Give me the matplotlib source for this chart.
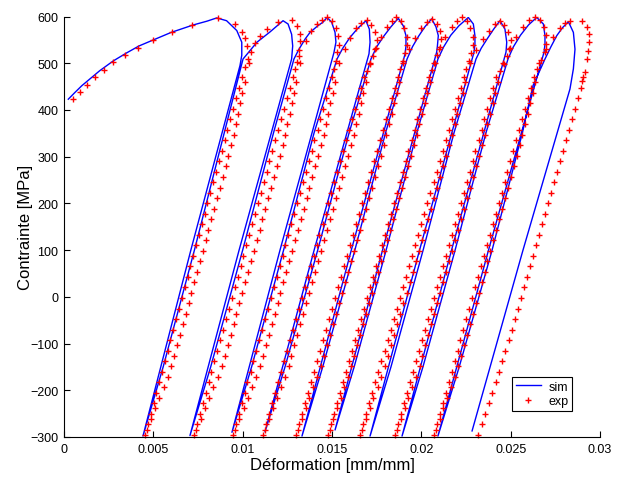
import numpy as np
import matplotlib
matplotlib.use('Agg')
import matplotlib.pyplot as plt

plt.rcParams['font.family'] = ['Liberation Sans', 'DejaVu Sans']

# all strains below are in 1e-3 mm/mm, stresses in MPa

# --- simulation (blue line) ---
sim_mono_x = [0.24, 0.6, 1.0, 1.5, 2.0, 2.76, 3.5, 4.2, 5.0, 6.0, 7.24, 8.0, 8.55]
sim_mono_y = [423, 437, 452, 468, 484, 505, 522, 537, 550, 566, 582, 590, 597]

sim_cycles_x = [
    [9.10, 9.67, 9.95, 9.95, 9.85, 7.10, 4.42, 5.55, 7.30, 8.96, 10.02, 10.80, 11.53, 12.26],
    [12.54, 12.74, 12.80, 12.74, 9.80, 7.05, 8.21, 10.00, 11.72, 12.87, 13.15, 13.50, 13.77, 14.20, 14.50, 14.72],
    [14.98, 15.17, 15.22, 15.11, 12.09, 9.40, 10.50, 12.29, 13.99, 15.28, 15.60, 16.00, 16.45, 16.90],
    [17.09, 17.13, 17.07, 14.00, 11.25, 12.37, 14.20, 15.95, 17.18, 17.50, 17.90, 18.30, 18.71],
    [18.99, 19.14, 19.14, 19.09, 16.08, 13.32, 14.48, 16.28, 17.99, 19.20, 19.50, 19.85, 20.20, 20.58],
    [20.82, 20.95, 20.90, 20.86, 17.83, 15.17, 16.24, 18.03, 19.74, 20.93, 21.25, 21.65, 22.10, 22.63],
    [22.91, 23.00, 23.00, 22.95, 19.90, 17.13, 18.30, 20.10, 21.82, 23.06, 23.35, 23.70, 24.05, 24.40],
    [24.68, 24.78, 24.74, 21.69, 18.92, 20.09, 21.89, 23.61, 24.85, 25.15, 25.55, 26.00, 26.46],
    [26.83, 26.92, 26.92, 26.87, 23.76, 20.93, 22.12, 23.96, 25.65, 26.25, 26.92, 27.25, 27.58, 27.90, 28.23],
    [28.51, 28.60, 28.51, 28.32, 25.69, 22.84],
]
sim_cycles_y = [
    [591, 570, 545, 517, 495, 100, -298, -150, 100, 350, 509, 545, 567, 591],
    [584, 562, 537, 509, 100, -297, -150, 100, 350, 509, 530, 552, 566, 580, 588, 598],
    [588, 566, 545, 523, 100, -290, -150, 100, 350, 509, 532, 555, 575, 591],
    [573, 545, 520, 100, -289, -150, 100, 350, 509, 535, 558, 578, 596],
    [580, 559, 537, 520, 100, -298, -150, 100, 350, 509, 535, 558, 578, 595],
    [578, 559, 537, 524, 100, -285, -150, 100, 350, 509, 535, 560, 580, 598],
    [584, 559, 541, 524, 100, -298, -150, 100, 350, 509, 532, 553, 573, 591],
    [573, 545, 524, 100, -298, -150, 100, 350, 509, 535, 560, 582, 598],
    [584, 559, 541, 524, 100, -298, -150, 100, 350, 452, 509, 535, 559, 576, 589],
    [566, 530, 488, 445, 100, -287],
]

# --- experiment (red +) ---
exp_mono_x = [0.52, 0.9, 1.3, 1.74, 2.24, 2.76, 3.41, 4.12, 5.0, 6.03, 7.18, 8.62]
exp_mono_y = [423, 438, 453, 471, 485, 502, 518, 533, 550, 566, 582, 597]

# stress levels of the markers on the unloading / reloading branches
exp_desc_levels = [-295, -273, -250, -228, -205, -183, -160, -138, -115, -93, -70, -48, -25, -3,
                   20, 42, 65, 87, 110, 132, 155, 177, 200, 222, 245, 267, 290, 312, 335, 357,
                   380, 402, 425, 447, 470]
exp_asc_levels = [-284, -261, -239, -216, -194, -171, -149, -126, -104, -81, -59, -36, -14, 9,
                  31, 54, 76, 99, 121, 144, 166, 189, 211, 234, 256, 279, 301, 324, 346, 369,
                  391, 414, 436, 459]

exp_desc_x = [
    [4.53, 4.69, 4.85, 5.01, 5.17, 5.33, 5.48, 5.64, 5.80, 5.96, 6.12, 6.28, 6.44, 6.60, 6.76, 6.92, 7.08, 7.23,
     7.39, 7.55, 7.71, 7.87, 8.03, 8.19, 8.35, 8.51, 8.67, 8.83, 8.99, 9.14, 9.30, 9.46, 9.62, 9.78, 9.94],
    [7.28, 7.44, 7.60, 7.77, 7.93, 8.09, 8.25, 8.42, 8.58, 8.74, 8.90, 9.07, 9.23, 9.39, 9.55, 9.72, 9.88, 10.04,
     10.20, 10.37, 10.53, 10.69, 10.85, 11.01, 11.18, 11.34, 11.50, 11.66, 11.83, 11.99, 12.15, 12.31, 12.48, 12.64, 12.80],
    [9.46, 9.62, 9.79, 9.95, 10.11, 10.27, 10.44, 10.60, 10.76, 10.93, 11.09, 11.25, 11.42, 11.58, 11.74, 11.90, 12.07, 12.23,
     12.39, 12.56, 12.72, 12.88, 13.05, 13.21, 13.37, 13.53, 13.70, 13.86, 14.02, 14.19, 14.35, 14.51, 14.67, 14.84, 15.00],
    [11.14, 11.31, 11.47, 11.64, 11.81, 11.97, 12.14, 12.31, 12.47, 12.64, 12.80, 12.97, 13.14, 13.30, 13.47, 13.64, 13.80, 13.97,
     14.14, 14.30, 14.47, 14.64, 14.80, 14.97, 15.13, 15.30, 15.47, 15.63, 15.80, 15.97, 16.13, 16.30, 16.47, 16.63, 16.80],
    [12.99, 13.16, 13.33, 13.49, 13.66, 13.83, 14.00, 14.17, 14.33, 14.50, 14.67, 14.84, 15.01, 15.17, 15.34, 15.51, 15.68, 15.85,
     16.01, 16.18, 16.35, 16.52, 16.69, 16.85, 17.02, 17.19, 17.36, 17.53, 17.69, 17.86, 18.03, 18.20, 18.36, 18.53, 18.70],
    [14.78, 14.95, 15.11, 15.28, 15.45, 15.61, 15.78, 15.95, 16.11, 16.28, 16.45, 16.61, 16.78, 16.95, 17.11, 17.28, 17.45, 17.61,
     17.78, 17.95, 18.12, 18.28, 18.45, 18.62, 18.78, 18.95, 19.12, 19.28, 19.45, 19.62, 19.78, 19.95, 20.12, 20.28, 20.45],
    [16.57, 16.74, 16.91, 17.08, 17.26, 17.43, 17.60, 17.77, 17.94, 18.11, 18.29, 18.46, 18.63, 18.80, 18.97, 19.14, 19.31, 19.49,
     19.66, 19.83, 20.00, 20.17, 20.34, 20.51, 20.69, 20.86, 21.03, 21.20, 21.37, 21.54, 21.71, 21.89, 22.06, 22.23, 22.40],
    [18.53, 18.70, 18.86, 19.03, 19.20, 19.36, 19.53, 19.70, 19.86, 20.03, 20.20, 20.36, 20.53, 20.70, 20.86, 21.03, 21.20, 21.36,
     21.53, 21.70, 21.87, 22.03, 22.20, 22.37, 22.53, 22.70, 22.87, 23.03, 23.20, 23.37, 23.53, 23.70, 23.87, 24.03, 24.20],
    [20.71, 20.87, 21.04, 21.20, 21.37, 21.53, 21.70, 21.86, 22.03, 22.19, 22.36, 22.52, 22.69, 22.85, 23.01, 23.18, 23.34, 23.50,
     23.67, 23.83, 24.00, 24.16, 24.33, 24.49, 24.66, 24.82, 24.99, 25.15, 25.32, 25.48, 25.65, 25.81, 25.97, 26.14, 26.30],
    [23.18, 23.37, 23.56, 23.76, 23.96, 24.16, 24.36, 24.54, 24.71, 24.88, 25.05, 25.22, 25.39, 25.56, 25.73, 25.90, 26.06, 26.23,
     26.40, 26.57, 26.74, 26.91, 27.07, 27.24, 27.41, 27.58, 27.75, 27.92, 28.09, 28.26, 28.42, 28.59, 28.76, 28.91, 29.06],
]
exp_asc_x = [
    [4.65, 4.87, 5.11, 5.34, 5.57, 5.80, 6.01, 6.17, 6.33, 6.49, 6.65, 6.81, 6.97, 7.13, 7.29, 7.45, 7.61,
     7.76, 7.92, 8.08, 8.24, 8.40, 8.56, 8.72, 8.88, 9.04, 9.20, 9.36, 9.49, 9.61, 9.74, 9.86, 9.98, 10.11],
    [7.40, 7.64, 7.89, 8.13, 8.36, 8.60, 8.84, 9.00, 9.16, 9.32, 9.49, 9.65, 9.81, 9.97, 10.14, 10.30, 10.46,
     10.62, 10.79, 10.95, 11.11, 11.27, 11.43, 11.60, 11.76, 11.92, 12.08, 12.25, 12.38, 12.50, 12.63, 12.76, 12.88, 13.00],
    [9.58, 9.81, 10.05, 10.28, 10.51, 10.75, 10.97, 11.13, 11.30, 11.46, 11.62, 11.79, 11.95, 12.11, 12.27, 12.44, 12.60,
     12.76, 12.93, 13.09, 13.25, 13.42, 13.58, 13.74, 13.90, 14.07, 14.23, 14.39, 14.53, 14.66, 14.79, 14.91, 15.04, 15.17],
    [11.26, 11.47, 11.69, 11.92, 12.13, 12.35, 12.57, 12.73, 12.90, 13.06, 13.23, 13.40, 13.56, 13.73, 13.90, 14.06, 14.23,
     14.40, 14.56, 14.73, 14.90, 15.06, 15.23, 15.39, 15.56, 15.73, 15.89, 16.06, 16.21, 16.34, 16.49, 16.63, 16.76, 16.91],
    [13.10, 13.31, 13.52, 13.73, 13.95, 14.16, 14.37, 14.53, 14.70, 14.87, 15.04, 15.21, 15.37, 15.54, 15.71, 15.88, 16.05,
     16.21, 16.38, 16.55, 16.72, 16.89, 17.05, 17.22, 17.39, 17.56, 17.73, 17.89, 18.04, 18.19, 18.34, 18.48, 18.63, 18.77],
    [14.89, 15.08, 15.28, 15.49, 15.68, 15.89, 16.09, 16.25, 16.42, 16.59, 16.75, 16.92, 17.09, 17.25, 17.42, 17.59, 17.75,
     17.92, 18.09, 18.26, 18.42, 18.59, 18.76, 18.92, 19.09, 19.26, 19.42, 19.59, 19.75, 19.89, 20.04, 20.20, 20.34, 20.49],
    [16.68, 16.89, 17.11, 17.32, 17.55, 17.76, 17.97, 18.14, 18.31, 18.48, 18.66, 18.83, 19.00, 19.17, 19.34, 19.51, 19.68,
     19.86, 20.03, 20.20, 20.37, 20.54, 20.71, 20.88, 21.06, 21.23, 21.40, 21.57, 21.72, 21.87, 22.02, 22.18, 22.33, 22.47],
    [18.64, 18.84, 19.06, 19.27, 19.48, 19.69, 19.90, 20.06, 20.23, 20.40, 20.56, 20.73, 20.90, 21.06, 21.23, 21.40, 21.56,
     21.73, 21.90, 22.07, 22.23, 22.40, 22.57, 22.73, 22.90, 23.07, 23.23, 23.40, 23.55, 23.69, 23.84, 23.99, 24.13, 24.27],
    [20.81, 21.02, 21.23, 21.44, 21.65, 21.86, 22.06, 22.23, 22.39, 22.56, 22.72, 22.89, 23.05, 23.21, 23.38, 23.54, 23.70,
     23.87, 24.03, 24.20, 24.36, 24.53, 24.69, 24.86, 25.02, 25.19, 25.35, 25.52, 25.66, 25.81, 25.95, 26.09, 26.24, 26.37],
]

# markers around the peaks: creep nose after each peak and the bend towards the next one
exp_nose_x = [
    [9.57, 9.95, 10.13, 10.23, 10.45, 10.30, 10.15],
    [12.74, 13.05, 13.21, 13.21, 13.17, 13.15, 13.03, 12.95],
    [14.72, 15.00, 15.20, 15.35, 15.38, 15.30, 15.20, 15.10],
    [16.96, 17.20, 17.40, 17.50, 17.45, 17.30, 17.10, 16.95],
    [18.58, 18.85, 19.05, 19.20, 19.20, 19.10, 18.95, 18.82],
    [20.60, 20.85, 21.05, 21.10, 21.05, 20.90, 20.75, 20.60],
    [22.26, 22.55, 22.75, 22.90, 22.90, 22.80, 22.65, 22.52],
    [24.40, 24.65, 24.85, 25.00, 24.95, 24.80, 24.60, 24.40],
    [26.36, 26.65, 26.85, 27.00, 27.00, 26.90, 26.70, 26.50],
    [28.32, 28.97, 29.26, 29.38, 29.38, 29.33, 29.26, 29.16, 28.97],
]
exp_nose_y = [
    [584, 567, 554, 536, 524, 508, 492],
    [593, 579, 563, 547, 529, 515, 502, 487],
    [598, 590, 575, 558, 540, 523, 505, 488],
    [592, 582, 567, 550, 533, 515, 498, 484],
    [598, 590, 575, 557, 540, 522, 505, 488],
    [595, 585, 570, 552, 535, 517, 500, 485],
    [598, 590, 575, 557, 540, 522, 505, 488],
    [591, 582, 567, 550, 533, 515, 498, 484],
    [600, 592, 577, 560, 542, 524, 506, 488],
    [591, 591, 578, 563, 545, 526, 509, 481, 463],
]
exp_bend_x = [
    [10.35, 10.69, 10.97, 11.35, 12.00],
    [13.20, 13.54, 13.85, 14.14, 14.45],
    [15.40, 15.70, 16.00, 16.35, 16.65],
    [17.10, 17.40, 17.75, 18.10, 18.35],
    [18.95, 19.30, 19.65, 20.00, 20.30],
    [20.70, 21.00, 21.35, 21.70, 22.00],
    [22.70, 23.05, 23.45, 23.80, 24.10],
    [24.55, 24.90, 25.30, 25.70, 26.05],
    [26.60, 26.95, 27.35, 27.75, 28.05],
]
exp_bend_y = [
    [500, 543, 559, 573, 589],
    [500, 548, 570, 584, 592],
    [500, 530, 555, 575, 586],
    [500, 530, 556, 577, 590],
    [500, 530, 555, 575, 588],
    [500, 530, 556, 577, 590],
    [500, 528, 552, 570, 583],
    [500, 530, 556, 578, 592],
    [500, 530, 556, 576, 586],
]

fig = plt.figure(figsize=(6.25, 4.81), dpi=100)
ax = fig.add_axes([0.1024, 0.0894, 0.8576, 0.8742])

mm = 1e-3
sx = list(sim_mono_x)
sy = list(sim_mono_y)
for cx, cy in zip(sim_cycles_x, sim_cycles_y):
    sx += cx
    sy += cy
ax.plot(np.array(sx) * mm, sy, color='#0000ff', lw=1.0, label='sim')

ex = list(exp_mono_x)
ey = list(exp_mono_y)
for k in range(len(exp_desc_x)):
    ex += exp_nose_x[k] + exp_desc_x[k]
    ey += exp_nose_y[k] + exp_desc_levels
    if k < len(exp_asc_x):
        ex += exp_asc_x[k] + exp_bend_x[k]
        ey += exp_asc_levels + exp_bend_y[k]
ax.plot(np.array(ex) * mm, ey, ls='none', marker='+', color='#ff0000',
        ms=5, mew=1.0, label='exp', clip_on=False)

ax.set_xlim(0, 0.03)
ax.set_ylim(-300, 600)
ax.set_xticks([0, 0.005, 0.01, 0.015, 0.02, 0.025, 0.03])
ax.set_xticklabels(['0', '0.005', '0.01', '0.015', '0.02', '0.025', '0.03'])
ax.set_yticks(np.arange(-300, 601, 100))
ax.spines['top'].set_visible(False)
ax.spines['right'].set_visible(False)
ax.tick_params(direction='in', length=4, width=0.8, labelsize=9, pad=4)
ax.set_xlabel('Déformation [mm/mm]', fontsize=12, labelpad=2)
ax.set_ylabel('Contrainte [MPa]', fontsize=12)
ax.yaxis.set_label_coords(-0.057, 0.5)

leg = ax.legend(loc='lower left', bbox_to_anchor=(0.836, 0.062), fontsize=9,
                fancybox=False, edgecolor='black', framealpha=1,
                handlelength=2.0, borderpad=0.3, labelspacing=0.2,
                handletextpad=0.6, borderaxespad=0)
leg.get_frame().set_linewidth(0.8)

fig.savefig('out.png', dpi=100)
